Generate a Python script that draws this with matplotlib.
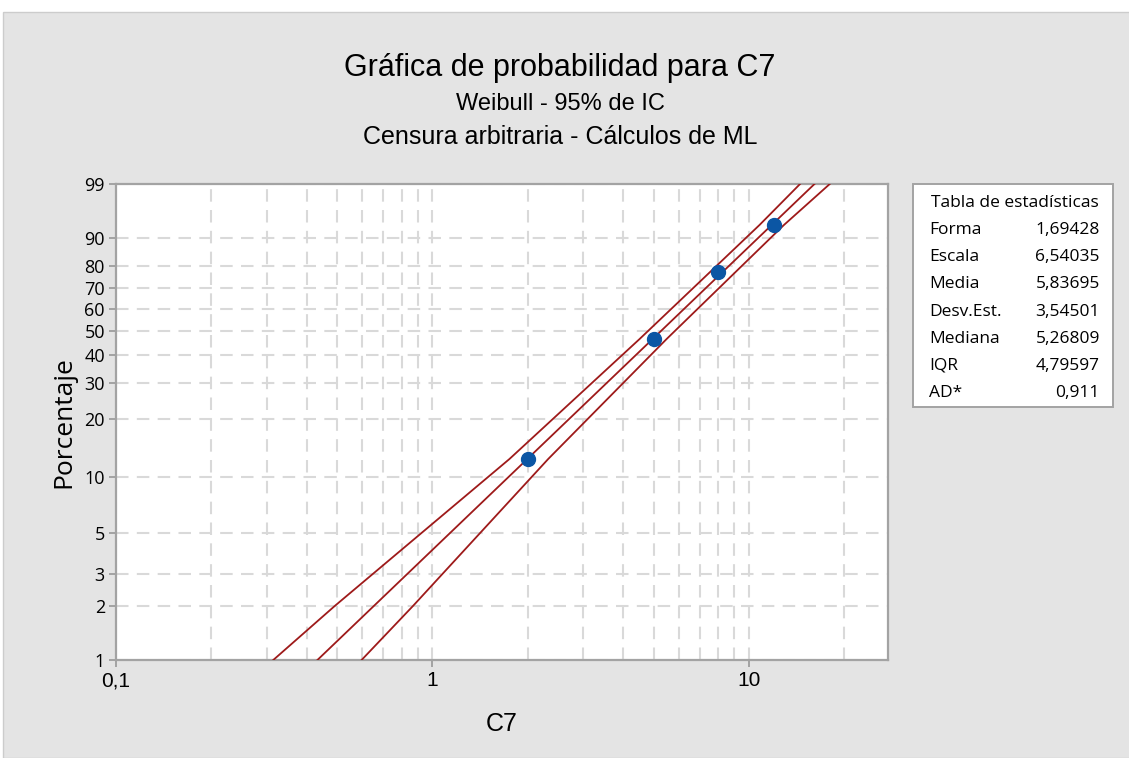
import numpy as np
import matplotlib
matplotlib.use("Agg")
import matplotlib.pyplot as plt
from matplotlib.patches import Rectangle
from matplotlib.ticker import FixedLocator, FixedFormatter, NullFormatter

# Weibull fit (ML, arbitrary censoring)
shape = 1.69428
scale = 6.54035

# plotted points: C7 value and plotting position (%)
obs_x = [2.0, 5.0, 8.0, 12.0]
obs_pct = [12.5, 46.5, 77.4, 93.4]

# 95% confidence band read at several percent levels
band_pct = [1.0, 2.0, 12.5, 46.5, 93.4, 99.0]
band_lower = [0.314, 0.492, 1.75, 4.51, 10.8, 14.5]
band_upper = [0.597, 0.869, 2.32, 5.49, 12.9, 18.0]

fit_pct = [1.0, 99.0]

y_ticks = [1, 2, 3, 5, 10, 20, 30, 40, 50, 60, 70, 80, 90, 99]
x_ticks = [0.1, 1, 10]
x_labels = ["0,1", "1", "10"]
x_minor = [0.2, 0.3, 0.4, 0.5, 0.6, 0.7, 0.8, 0.9,
           2, 3, 4, 5, 6, 7, 8, 9, 20]

stats_names = ["Forma", "Escala", "Media", "Desv.Est.", "Mediana", "IQR", "AD*"]
stats_values = ["1,69428", "6,54035", "5,83695", "3,54501", "5,26809", "4,79597", "0,911"]

narrow = ["Liberation Sans", "DejaVu Sans"]
plain = ["Open Sans", "DejaVu Sans"]

RED = "#9e1a1a"
BLUE = "#0b56a4"
GRID = "#d9d9d9"
SPINE = "#a3a3a3"


def weibull_fwd(p):
    p = np.clip(np.asarray(p, dtype=float), 1e-6, 100 - 1e-6)
    return np.log(-np.log(1 - p / 100.0))


def weibull_inv(w):
    return 100.0 * (1 - np.exp(-np.exp(np.asarray(w, dtype=float))))


fig = plt.figure(figsize=(11.29, 7.58), dpi=100, facecolor="white")
fig.patches.append(Rectangle((3 / 1129, 0), 1, (758 - 12) / 758,
                             transform=fig.transFigure, facecolor="#e4e4e4",
                             edgecolor="#cccccc", linewidth=1, zorder=-10))

ax = fig.add_axes([116 / 1129, 98 / 758, 772 / 1129, 476 / 758])
ax.set_xscale("log")
ax.set_yscale("function", functions=(weibull_fwd, weibull_inv))
ax.set_xlim(0.1, 27.5)
ax.set_ylim(1, 99)

# fitted line from the shape/scale estimates
fit_x = [scale * (-np.log(1 - p / 100.0)) ** (1 / shape) for p in fit_pct]
ax.plot(fit_x, fit_pct, color=RED, lw=1.3, zorder=3)
ax.plot(band_lower, band_pct, color=RED, lw=1.3, zorder=3)
ax.plot(band_upper, band_pct, color=RED, lw=1.3, zorder=3)
ax.plot(obs_x, obs_pct, "o", color=BLUE, ms=10, mec=BLUE, zorder=4)

ax.xaxis.set_major_locator(FixedLocator(x_ticks))
ax.xaxis.set_major_formatter(FixedFormatter(x_labels))
ax.xaxis.set_minor_locator(FixedLocator(x_minor))
ax.xaxis.set_minor_formatter(NullFormatter())
ax.yaxis.set_major_locator(FixedLocator(y_ticks))
ax.yaxis.set_major_formatter(FixedFormatter([str(t) for t in y_ticks]))
ax.yaxis.set_minor_locator(FixedLocator([]))

ax.grid(True, which="both", axis="x", color=GRID, lw=1.5, ls=(0, (6, 4)), zorder=1)
ax.grid(True, which="major", axis="y", color=GRID, lw=1.5, ls=(0, (6, 4)), zorder=1)
ax.set_axisbelow(True)

for s in ax.spines.values():
    s.set_color(SPINE)
    s.set_linewidth(1.6)
ax.tick_params(which="major", direction="out", length=5, width=1.4, color=SPINE,
               labelsize=13, pad=3)
ax.tick_params(which="minor", length=0)
for lab in ax.get_yticklabels():
    lab.set_family(plain)
for lab in ax.get_xticklabels():
    lab.set_family(narrow)
    lab.set_fontsize(15)

ax.set_xlabel("C7", family=narrow, fontsize=18, labelpad=16)
ax.set_ylabel("Porcentaje", family=plain, fontsize=19, labelpad=6)

fig.text(560 / 1129, 1 - 68 / 758, "Gráfica de probabilidad para C7",
         family=narrow, fontsize=22, ha="center", va="center")
fig.text(560 / 1129, 1 - 104 / 758, "Weibull - 95% de IC",
         family=narrow, fontsize=17, ha="center", va="center")
fig.text(560 / 1129, 1 - 137 / 758, "Censura arbitraria - Cálculos de ML",
         family=narrow, fontsize=18, ha="center", va="center")

# statistics table
fig.patches.append(Rectangle((913 / 1129, 1 - 407 / 758), 200 / 1129, 223 / 758,
                             transform=fig.transFigure, facecolor="white",
                             edgecolor=SPINE, linewidth=1.4, zorder=1))
fig.text(1015 / 1129, 1 - 203 / 758, "Tabla de estadísticas", family=plain,
         fontsize=12.5, ha="center", va="center")
for i, (name, val) in enumerate(zip(stats_names, stats_values)):
    y = 1 - (230 + 27.2 * i) / 758
    fig.text(929 / 1129, y, name, family=plain, fontsize=12.5, ha="left", va="center")
    fig.text(1100 / 1129, y, val, family=plain, fontsize=12.5, ha="right", va="center")

fig.savefig("out.png", dpi=100, facecolor=fig.get_facecolor())
